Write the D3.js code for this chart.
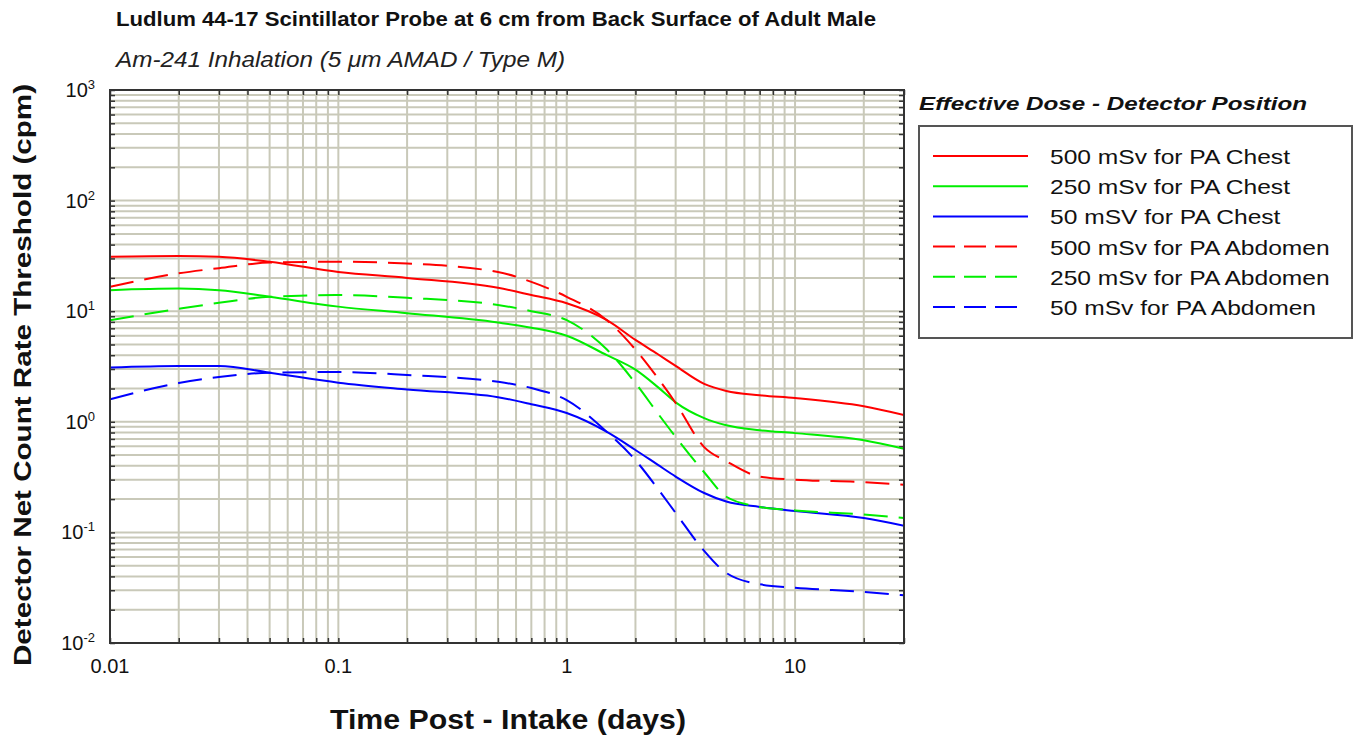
<!DOCTYPE html>
<html><head><meta charset="utf-8">
<script src="https://cdn.jsdelivr.net/npm/d3@7"></script>
<style>body{margin:0;background:#fff;} svg{display:block;font-family:"Liberation Sans",Arial,sans-serif;}</style>
</head><body>
<svg id="chart" width="1355" height="740"></svg>
<script>
const days = [0.01,0.02,0.03,0.05,0.1,0.2,0.5,0.7,1,1.5,2,2.5,3,4,5,7,10,20,30];
const chest500 = [31,31.5,31,28,22.6,20,16.3,14,11.8,8.3,5.5,4.1,3.2,2.2,1.9,1.74,1.64,1.38,1.15];
const chest250 = [15.5,16,15.5,13.5,11,9.6,7.9,7.1,6,4,2.96,2.07,1.5,1.08,0.93,0.84,0.79,0.68,0.57];
const chest50  = [3.1,3.2,3.2,2.78,2.26,1.96,1.67,1.44,1.2,0.81,0.556,0.41,0.32,0.227,0.19,0.17,0.156,0.135,0.115];
const abd500   = [16.6,22,24.5,27.5,28,27,22.6,18.4,13.5,8.3,4.5,2.5,1.48,0.59,0.44,0.32,0.30,0.285,0.27];
const abd250   = [8.3,10.5,11.9,13.5,14,13.2,11.4,10,8.3,4.5,2.24,1.2,0.73,0.35,0.21,0.17,0.158,0.145,0.135];
const abd50    = [1.6,2.24,2.54,2.78,2.82,2.65,2.3,2.02,1.57,0.81,0.45,0.25,0.15,0.068,0.043,0.034,0.0316,0.029,0.027];
const seriesNames = ["500 mSv for PA Chest","250 mSv for PA Chest","50 mSV for PA Chest","500 mSv for PA Abdomen","250 mSv for PA Abdomen","50 mSv for PA Abdomen"];
const seriesValues = [chest500, chest250, chest50, abd500, abd250, abd50];
const seriesColors = ["#ff0000","#00ee00","#0000ff","#ff0000","#00ee00","#0000ff"];
const seriesDashed = [false,false,false,true,true,true];
const xTicks = [0.01,0.1,1,10];
const xTickLabels = ["0.01","0.1","1","10"];
const yTicks = [1e-2,1e-1,1,10,100,1000];
const yExp = ["-2","-1","0","1","2","3"];

const svg = d3.select("#chart");
const L=110, R=904, T=90, B=643;
const x = d3.scaleLog().domain([0.01,30]).range([L,R]);
const y = d3.scaleLog().domain([0.01,1000]).range([B,T]);
const gridCol = "#c9c9b9";

const xGrid=[], yGrid=[];
for (let e=-2;e<=1;e++) for (let m=1;m<=9;m++){const v=m*Math.pow(10,e); if(v>=0.01&&v<=30) xGrid.push(v);}
for (let e=-2;e<=2;e++) for (let m=1;m<=9;m++){const v=m*Math.pow(10,e); if(v>=0.01&&v<=1000) yGrid.push(v);}
yGrid.push(1000);

const g = svg.append("g");
g.selectAll(".vg").data(xGrid).enter().append("line")
 .attr("x1",d=>x(d)).attr("x2",d=>x(d)).attr("y1",T).attr("y2",B)
 .attr("stroke",gridCol).attr("stroke-width",2);
g.selectAll(".hg").data(yGrid).enter().append("line")
 .attr("y1",d=>y(d)).attr("y2",d=>y(d)).attr("x1",L).attr("x2",R)
 .attr("stroke",gridCol).attr("stroke-width",2);

const xAxisB = d3.axisBottom(x).tickValues(xGrid).tickSize(-5).tickFormat("");
const xAxisT = d3.axisTop(x).tickValues(xGrid).tickSize(-5).tickFormat("");
const yAxisL = d3.axisLeft(y).tickValues(yGrid).tickSize(-5).tickFormat("");
const yAxisR = d3.axisRight(y).tickValues(yGrid).tickSize(-5).tickFormat("");
function styleAx(sel){sel.select(".domain").remove(); sel.selectAll(".tick line").attr("stroke","#333").attr("stroke-width",1.5);}
svg.append("g").attr("transform",`translate(0,${B})`).call(xAxisB).call(styleAx);
svg.append("g").attr("transform",`translate(0,${T})`).call(xAxisT).call(styleAx);
svg.append("g").attr("transform",`translate(${L},0)`).call(yAxisL).call(styleAx);
svg.append("g").attr("transform",`translate(${R},0)`).call(yAxisR).call(styleAx);

const line = d3.line().x(d=>x(d[0])).y(d=>y(d[1])).curve(d3.curveMonotoneX);
svg.append("clipPath").attr("id","clp").append("rect").attr("x",L).attr("y",T).attr("width",R-L).attr("height",B-T);
seriesValues.forEach((vals,i)=>{
  svg.append("path").datum(days.map((d,j)=>[d,vals[j]]))
   .attr("d",line).attr("fill","none").attr("stroke",seriesColors[i]).attr("stroke-width",2)
   .attr("stroke-dasharray",seriesDashed[i]?"24,11":null).attr("clip-path","url(#clp)");
});

svg.append("rect").attr("x",L).attr("y",T).attr("width",R-L).attr("height",B-T)
 .attr("fill","none").attr("stroke","#333").attr("stroke-width",2);

svg.selectAll(".xl").data(xTicks).enter().append("text")
 .attr("x",d=>x(d)).attr("y",673).attr("text-anchor","middle").attr("font-size",20).attr("fill","#111")
 .text((d,i)=>xTickLabels[i]);
const yl = svg.selectAll(".yl").data(yTicks).enter().append("text")
 .attr("x",95).attr("y",d=>y(d)+7).attr("text-anchor","end").attr("font-size",20).attr("fill","#111");
yl.append("tspan").text("10");
yl.append("tspan").attr("dy",-8).attr("font-size",13).text((d,i)=>yExp[i]);

svg.append("text").attr("x",116).attr("y",26).attr("font-size",21).attr("font-weight","bold").attr("fill","#111")
 .attr("textLength",760).attr("lengthAdjust","spacingAndGlyphs")
 .text("Ludlum 44-17 Scintillator Probe at 6 cm from Back Surface of Adult Male");
const sub = svg.append("text").attr("x",116).attr("y",67).attr("font-size",22).attr("font-style","italic").attr("fill","#222")
 .attr("textLength",449).attr("lengthAdjust","spacingAndGlyphs");
sub.text("Am-241 Inhalation (5 μm AMAD / Type M)");
svg.append("text").attr("x",508).attr("y",729).attr("text-anchor","middle").attr("font-size",27).attr("font-weight","bold").attr("fill","#111")
 .attr("textLength",356).attr("lengthAdjust","spacingAndGlyphs").text("Time Post - Intake (days)");
svg.append("text").attr("transform","translate(31,375) rotate(-90)").attr("text-anchor","middle").attr("font-size",24).attr("font-weight","bold").attr("fill","#111")
 .attr("textLength",582).attr("lengthAdjust","spacingAndGlyphs").text("Detector Net Count Rate Threshold (cpm)");

svg.append("text").attr("x",919).attr("y",110).attr("font-size",19).attr("font-weight","bold").attr("font-style","italic").attr("fill","#111")
 .attr("textLength",388).attr("lengthAdjust","spacingAndGlyphs").text("Effective Dose - Detector Position");
svg.append("rect").attr("x",919).attr("y",126).attr("width",433).attr("height",212).attr("fill","#fff").attr("stroke","#555").attr("stroke-width",2);
const lg = svg.selectAll(".lg").data(seriesNames).enter().append("g").attr("transform",(d,i)=>`translate(0,${156+i*30.2})`);
lg.append("line").attr("x1",933).attr("x2",(d,i)=>seriesDashed[i]?1019:1028).attr("y1",0).attr("y2",0)
 .attr("stroke",(d,i)=>seriesColors[i]).attr("stroke-width",2).attr("stroke-dasharray",(d,i)=>seriesDashed[i]?"22,9":null);
const lt = lg.append("text").attr("x",1050).attr("y",8).attr("font-size",21).attr("fill","#111").text(d=>d);
const k = 240 / lt.nodes()[0].getComputedTextLength();
lt.each(function(){ const w=this.getComputedTextLength(); d3.select(this).attr("textLength",w*k).attr("lengthAdjust","spacingAndGlyphs"); });
</script>
</body></html>
